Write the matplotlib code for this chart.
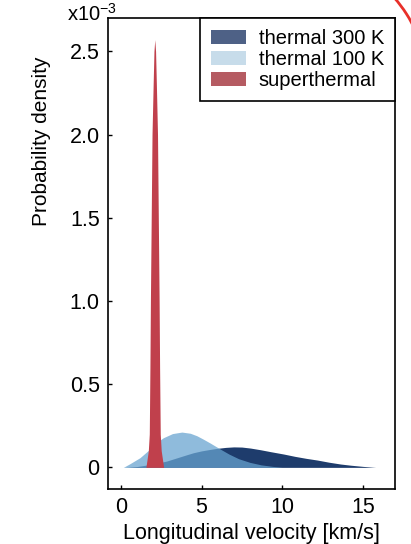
import matplotlib
matplotlib.use("Agg")
import matplotlib.pyplot as plt
from matplotlib.patches import Patch, Arc

plt.rcParams['font.family'] = ['Liberation Sans', 'DejaVu Sans']

# ---- data (density in units of 1e-3) ----
v_300 = [0.25, 1.0, 2.0, 2.84, 3.5, 4.09, 4.5, 5.0, 5.54, 5.95, 6.5, 7.0, 7.5, 8.03,
         8.65, 9.3, 10.1, 10.8, 11.5, 12.18, 12.9, 13.63, 14.25, 15.0, 15.8]
d_300 = [0.0, 0.005, 0.02, 0.038, 0.058, 0.076, 0.088, 0.099, 0.108, 0.114, 0.12, 0.123,
         0.122, 0.116, 0.106, 0.094, 0.08, 0.066, 0.054, 0.044, 0.031, 0.02, 0.013, 0.006, 0.0]

v_100 = [0.15, 0.56, 1.18, 1.8, 2.3, 2.63, 3.2, 3.78, 4.3, 4.71, 5.1, 5.54, 6.16,
         6.7, 7.3, 8.0, 8.7, 9.4, 10.0]
d_100 = [0.0, 0.022, 0.058, 0.11, 0.155, 0.178, 0.203, 0.212, 0.205, 0.19, 0.17, 0.146,
         0.11, 0.08, 0.052, 0.03, 0.015, 0.006, 0.0]

v_sup = [1.55, 1.7, 1.76, 1.8, 1.83, 1.88, 1.93, 2.0, 2.05, 2.1, 2.15, 2.2, 2.27,
         2.32, 2.37, 2.4, 2.44, 2.5, 2.65]
d_sup = [0.0, 0.1, 0.2, 0.6, 1.0, 1.5, 2.0, 2.3, 2.5, 2.57, 2.5, 2.3, 2.0,
         1.5, 1.0, 0.6, 0.2, 0.1, 0.0]

series_labels = ["thermal 300 K", "thermal 100 K", "superthermal"]
x_ticks = [0, 5, 10, 15]
x_ticklabels = ["0", "5", "10", "15"]
y_ticks = [0, 0.5, 1.0, 1.5, 2.0, 2.5]
y_ticklabels = ["0", "0.5", "1.0", "1.5", "2.0", "2.5"]

# ---- figure ----
fig = plt.figure(figsize=(4.11, 5.44), dpi=100)
ax = fig.add_axes([0.2628, 0.1011, 0.6983, 0.8658])

ax.fill_between(v_300, 0, d_300, color="#1e3c6c", linewidth=0, zorder=1)
ax.fill_between(v_100, 0, d_100, color="#68a4d0", alpha=0.74, linewidth=0, zorder=2)
ax.fill_between(v_sup, 0, d_sup, color="#c0404c", linewidth=0, zorder=3)

ax.set_xlim(-0.8, 17.0)
ax.set_ylim(-0.13, 2.70)
ax.set_xticks(x_ticks)
ax.set_xticklabels(x_ticklabels)
ax.set_yticks(y_ticks)
ax.set_yticklabels(y_ticklabels)
ax.tick_params(direction="in", length=3, width=1, labelsize=15.5, colors="black", pad=6)

for s in ax.spines.values():
    s.set_linewidth(1.2)
    s.set_color("black")

ax.set_xlabel("Longitudinal velocity [km/s]", fontsize=15.5, labelpad=3)
ax.set_ylabel("Probability density", fontsize=15)
ax.yaxis.set_label_coords(-0.20, 0.739)

fig.text(0.163, 0.961, r"x10$^{\mathregular{-3}}$", fontsize=14.5, ha="left", va="baseline")

handles = [Patch(facecolor="#4e6186", edgecolor="none"),
           Patch(facecolor="#c7dcea", edgecolor="none"),
           Patch(facecolor="#b55b62", edgecolor="none")]
leg = ax.legend(handles, series_labels, loc="upper right", borderaxespad=0,
                fontsize=14.5, fancybox=False, framealpha=1, edgecolor="black",
                handlelength=1.75, handleheight=0.65, handletextpad=0.6,
                labelspacing=0.1, borderpad=0.55)
leg.get_frame().set_linewidth(1.2)

# red annotation arc at the top-right corner
arc = Arc((2.935, 4.58), 2.68, 2.68, theta1=15, theta2=50, color="#e8302a",
          linewidth=2, transform=fig.dpi_scale_trans, clip_on=False)
fig.add_artist(arc)

fig.savefig("out.png", dpi=100, facecolor="white")
